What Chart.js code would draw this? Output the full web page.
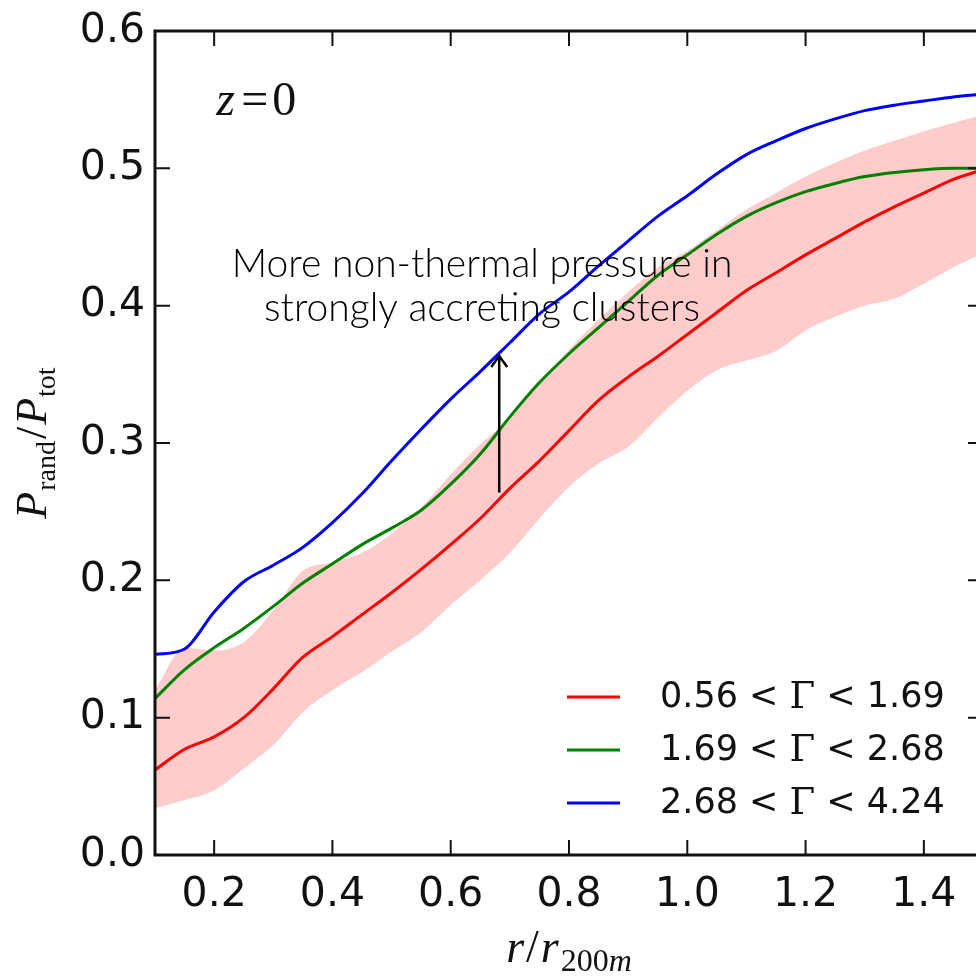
<!DOCTYPE html>
<html>
<head>
<meta charset="utf-8">
<script src="https://cdn.jsdelivr.net/npm/chart.js@4.4.0/dist/chart.umd.min.js"></script>
<style>
  html, body { margin: 0; padding: 0; background: #fff; overflow: hidden; }
  #wrap { width: 990px; height: 980px; }
</style>
</head>
<body>
<div id="wrap"><canvas id="chart"></canvas></div>
<script>
// radius r/r200m
var r = [0.10, 0.15, 0.20, 0.25, 0.30, 0.35, 0.40, 0.45, 0.50, 0.55,
         0.60, 0.65, 0.70, 0.75, 0.80, 0.85, 0.90, 0.95, 1.00, 1.05,
         1.10, 1.15, 1.20, 1.25, 1.30, 1.35, 1.40, 1.45, 1.50];

// 0.56 < Gamma < 1.69
var lowAcc = [0.062, 0.077, 0.086, 0.100, 0.121, 0.144, 0.159, 0.175, 0.191, 0.208,
              0.226, 0.245, 0.267, 0.287, 0.309, 0.331, 0.348, 0.363, 0.379, 0.395,
              0.411, 0.424, 0.437, 0.449, 0.461, 0.472, 0.482, 0.492, 0.499];
// 1.69 < Gamma < 2.68
var midAcc = [0.114, 0.135, 0.151, 0.165, 0.181, 0.198, 0.212, 0.226, 0.238, 0.251,
              0.270, 0.292, 0.319, 0.344, 0.365, 0.384, 0.403, 0.422, 0.437, 0.452,
              0.465, 0.475, 0.483, 0.489, 0.494, 0.497, 0.499, 0.500, 0.500];
// 2.68 < Gamma < 4.24
var highAcc = [0.146, 0.150, 0.177, 0.199, 0.211, 0.224, 0.242, 0.263, 0.287, 0.310,
               0.332, 0.352, 0.373, 0.394, 0.410, 0.429, 0.447, 0.465, 0.480, 0.496,
               0.510, 0.520, 0.529, 0.536, 0.542, 0.546, 0.549, 0.552, 0.554];
// scatter band around the low-accretion curve
var bandUpper = [0.120, 0.151, 0.149, 0.155, 0.178, 0.207, 0.213, 0.220, 0.234, 0.253,
                 0.277, 0.299, 0.318, 0.344, 0.368, 0.390, 0.410, 0.428, 0.440, 0.455,
                 0.470, 0.482, 0.494, 0.504, 0.513, 0.520, 0.527, 0.533, 0.539];
var bandLower = [0.034, 0.040, 0.047, 0.063, 0.080, 0.104, 0.120, 0.133, 0.148, 0.162,
                 0.182, 0.200, 0.220, 0.245, 0.268, 0.285, 0.297, 0.318, 0.338, 0.353,
                 0.360, 0.367, 0.382, 0.392, 0.400, 0.405, 0.416, 0.428, 0.438];

var seriesLabels = ['0.56 < \u0393 < 1.69', '1.69 < \u0393 < 2.68', '2.68 < \u0393 < 4.24'];
var seriesColors = ['#ff0000', '#008000', '#0000ff'];
var xTicks = [0.2, 0.4, 0.6, 0.8, 1.0, 1.2, 1.4];
var yTicks = [0.0, 0.1, 0.2, 0.3, 0.4, 0.5, 0.6];

var noteLines = ['More non-thermal pressure in', 'strongly accreting clusters'];
var note = { x: 0.653, y1: 0.421, y2: 0.389 };
var arrow = { x: 0.682, from: 0.264, to: 0.364 };
var zLabel = { x: 0.20, y: 0.539 };

function pts(ys) {
  return r.map(function (x, i) { return { x: x, y: ys[i] }; });
}

function drawParts(ctx, parts, cx, by) {
  var w = 0;
  parts.forEach(function (p) { ctx.font = p[0]; w += ctx.measureText(p[1]).width + (p[3] || 0); });
  var x = cx - w / 2;
  parts.forEach(function (p) {
    ctx.font = p[0];
    ctx.fillText(p[1], x, by + p[2]);
    x += ctx.measureText(p[1]).width + (p[3] || 0);
  });
}

var decorations = {
  id: 'decorations',
  afterDraw: function (chart) {
    var ctx = chart.ctx, a = chart.chartArea;
    var xs = chart.scales.x, ys = chart.scales.y;
    ctx.save();

    // frame + inward ticks
    ctx.strokeStyle = '#111';
    ctx.lineWidth = 3;
    ctx.strokeRect(a.left, a.top, a.right - a.left, a.bottom - a.top);
    ctx.lineWidth = 2;
    ctx.beginPath();
    xTicks.forEach(function (v) {
      var px = xs.getPixelForValue(v);
      ctx.moveTo(px, a.bottom); ctx.lineTo(px, a.bottom - 15);
      ctx.moveTo(px, a.top); ctx.lineTo(px, a.top + 15);
    });
    yTicks.forEach(function (v) {
      var py = ys.getPixelForValue(v);
      ctx.moveTo(a.left, py); ctx.lineTo(a.left + 15, py);
      ctx.moveTo(a.right, py); ctx.lineTo(a.right - 15, py);
    });
    ctx.stroke();

    // legend
    ctx.textBaseline = 'middle';
    ctx.fillStyle = '#111';
    for (var i = 0; i < 3; i++) {
      var ly = a.bottom - 158 + i * 53;
      ctx.strokeStyle = seriesColors[i];
      ctx.lineWidth = 3;
      ctx.beginPath();
      ctx.moveTo(a.left + 412, ly); ctx.lineTo(a.left + 465, ly);
      ctx.stroke();
      var bits = chart.data.datasets[i].label.split('\u0393');
      ctx.textAlign = 'left';
      ctx.font = '35px "DejaVu Sans"';
      var tx = a.left + 505;
      ctx.fillText(bits[0], tx, ly + 1);
      tx += ctx.measureText(bits[0]).width;
      ctx.font = '37px "DejaVu Serif"';
      ctx.fillText('\u0393', tx, ly + 1);
      tx += ctx.measureText('\u0393').width;
      ctx.font = '35px "DejaVu Sans"';
      ctx.fillText(bits[1], tx, ly + 1);
    }

    // z = 0
    ctx.textBaseline = 'alphabetic';
    var zx = xs.getPixelForValue(zLabel.x), zy = ys.getPixelForValue(zLabel.y);
    ctx.font = 'italic 48px "Liberation Serif"';
    ctx.fillText('z', zx + 2, zy);
    ctx.font = '48px "Liberation Serif"';
    ctx.fillText('=', zx + 27, zy);
    ctx.fillText('0', zx + 58, zy);

    // annotation text
    ctx.textAlign = 'center';
    ctx.font = '300 39px Lato, Roboto, sans-serif';
    ctx.fillStyle = '#000';
    var nx = xs.getPixelForValue(note.x);
    ctx.fillText(noteLines[0], nx, ys.getPixelForValue(note.y1));
    ctx.fillText(noteLines[1], nx, ys.getPixelForValue(note.y2));

    // arrow
    var ax = xs.getPixelForValue(arrow.x);
    var ay0 = ys.getPixelForValue(arrow.from), ay1 = ys.getPixelForValue(arrow.to);
    ctx.strokeStyle = '#000';
    ctx.lineWidth = 2.5;
    ctx.beginPath();
    ctx.moveTo(ax, ay0); ctx.lineTo(ax, ay1);
    ctx.moveTo(ax - 8, ay1 + 12); ctx.lineTo(ax, ay1 + 1); ctx.lineTo(ax + 8, ay1 + 12);
    ctx.stroke();

    // x axis title: r / r_200m
    ctx.textAlign = 'left';
    ctx.fillStyle = '#111';
    var cx = (a.left + a.right) / 2;
    drawParts(ctx, [
      ['italic 46px "Liberation Serif"', 'r', 0, 2],
      ['46px "Liberation Serif"', '/', 0, 2],
      ['italic 46px "Liberation Serif"', 'r', 0, 2],
      ['32px "Liberation Serif"', '200', 9],
      ['italic 32px "Liberation Serif"', 'm', 9]
    ], cx, 962);

    // y axis title: P_rand / P_tot
    ctx.translate(46, (a.top + a.bottom) / 2);
    ctx.rotate(-Math.PI / 2);
    drawParts(ctx, [
      ['italic 44px "Liberation Serif"', 'P', 0, 1],
      ['28px "Liberation Serif"', 'rand', 9, 2],
      ['44px "Liberation Serif"', '/', 0, 2],
      ['italic 44px "Liberation Serif"', 'P', 0, 1],
      ['28px "Liberation Serif"', 'tot', 9]
    ], 0, 0);
    ctx.restore();
  }
};

var lineSet = function (label, ys, color) {
  return {
    label: label, data: pts(ys), borderColor: color, borderWidth: 3,
    pointRadius: 0, fill: false, cubicInterpolationMode: 'monotone'
  };
};

new Chart(document.getElementById('chart'), {
  type: 'line',
  data: {
    datasets: [
      lineSet(seriesLabels[0], lowAcc, seriesColors[0]),
      lineSet(seriesLabels[1], midAcc, seriesColors[1]),
      lineSet(seriesLabels[2], highAcc, seriesColors[2]),
      {
        label: 'band upper', data: pts(bandUpper), borderWidth: 0, pointRadius: 0,
        backgroundColor: 'rgba(255, 0, 0, 0.2)', fill: '+1', cubicInterpolationMode: 'monotone'
      },
      {
        label: 'band lower', data: pts(bandLower), borderWidth: 0, pointRadius: 0,
        fill: false, cubicInterpolationMode: 'monotone'
      }
    ]
  },
  options: {
    responsive: true,
    maintainAspectRatio: false,
    animation: false,
    layout: { padding: { top: 31, right: 7, left: 0, bottom: 0 } },
    plugins: { legend: { display: false }, tooltip: { enabled: false } },
    scales: {
      x: {
        type: 'linear', min: 0.1, max: 1.5,
        grid: { display: false, drawTicks: false },
        border: { display: false },
        afterBuildTicks: function (s) { s.ticks = xTicks.map(function (v) { return { value: v }; }); },
        afterFit: function (s) { s.height = 125; s.paddingLeft = 0; s.paddingRight = 0; },
        ticks: {
          padding: 16, color: '#111', maxRotation: 0,
          font: { family: 'DejaVu Sans', size: 41 },
          callback: function (v) { return v.toFixed(1); }
        }
      },
      y: {
        min: 0, max: 0.6,
        grid: { display: false, drawTicks: false },
        border: { display: false },
        afterBuildTicks: function (s) { s.ticks = yTicks.map(function (v) { return { value: v }; }); },
        afterFit: function (s) { s.width = 155; s.paddingTop = 0; s.paddingBottom = 0; },
        ticks: {
          padding: 10, color: '#111',
          font: { family: 'DejaVu Sans', size: 41 },
          callback: function (v) { return v.toFixed(1); }
        }
      }
    }
  },
  plugins: [decorations]
});
</script>
</body>
</html>
